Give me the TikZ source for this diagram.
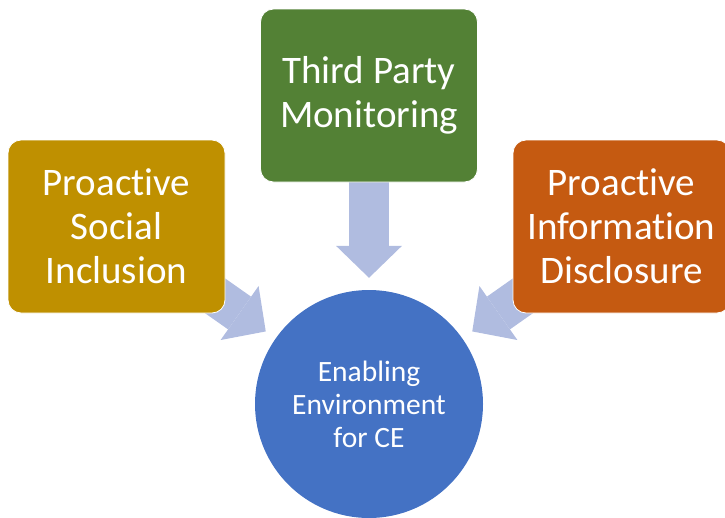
\documentclass[tikz,border=0pt]{standalone}
\usepackage{fontspec}
\setmainfont{Carlito}[Ligatures=NoCommon]
\usetikzlibrary{arrows.meta}
\definecolor{boxgold}{HTML}{BF9000}
\definecolor{boxgreen}{HTML}{538135}
\definecolor{boxorange}{HTML}{C55A11}
\definecolor{circblue}{HTML}{4472C4}
\definecolor{arrowblue}{HTML}{B0BCE0}
\pgfdeclarelayer{bg}
\pgfsetlayers{bg,main}
\tikzset{
  boxnode/.style={rectangle, rounded corners=13pt, minimum width=217pt, minimum height=173pt,
    inner sep=0pt, text=white, align=center, draw=white, line width=0.8pt,
    font=\fontsize{39}{44}\selectfont},
  circnode/.style={circle, minimum size=228pt, inner sep=0pt, fill=circblue, text=white,
    align=center, font=\fontsize{29.5}{33}\selectfont},
  blockarrow/.style={draw=arrowblue, line width=40pt,
    -{Triangle[width=66pt,length=32pt,line width=0pt]}, shorten >=12pt}
}
\begin{document}
\begin{tikzpicture}[x=1pt,y=-1pt]
\useasboundingbox (0,0) rectangle (725,517);
\node[boxnode, fill=boxgreen] (top) at (369,95.5) {Third Party\\Monitoring};
\node[boxnode, fill=boxgold] (left) at (116.5,226.5) {Proactive\\Social\\Inclusion};
\node[boxnode, fill=boxorange] (right) at (621.5,226.5) {Proactive\\Information\\Disclosure};
\node[circnode] (ce) at (369,404) {Enabling\\Environment\\for CE};
\begin{pgfonlayer}{bg}
\draw[blockarrow] (top.center) -- (ce);
\draw[blockarrow] (left.center) -- (ce);
\draw[blockarrow] (right.center) -- (ce);
\end{pgfonlayer}
\end{tikzpicture}
\end{document}
